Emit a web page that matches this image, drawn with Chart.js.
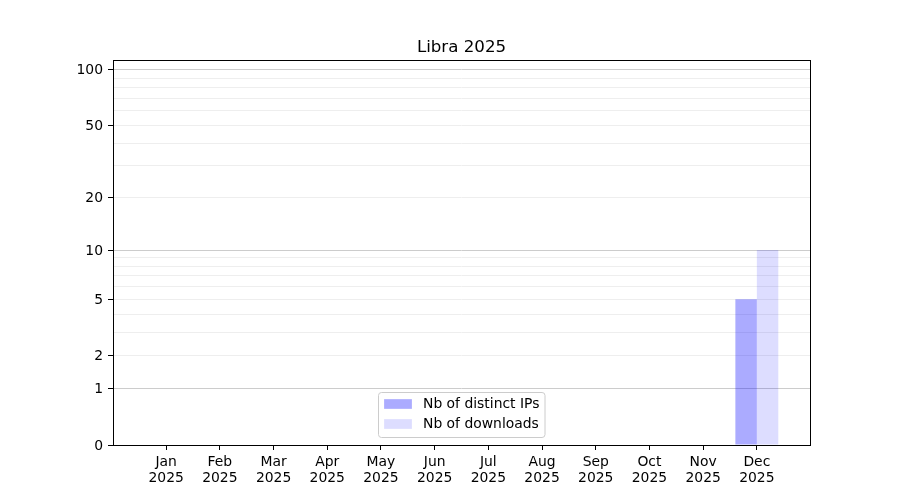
<!DOCTYPE html>
<html>
<head>
<meta charset="utf-8">
<script src="https://cdn.jsdelivr.net/npm/chart.js@4"></script>
<style>
  body { margin: 0; background: #fff; }
</style>
</head>
<body>
<canvas id="myChart" width="900" height="500"></canvas>
<script>
const monthLabels = ["Jan", "Feb", "Mar", "Apr", "May", "Jun", "Jul", "Aug", "Sep", "Oct", "Nov", "Dec"];
const yearLabel = "2025";
const distinctIPs = [0, 0, 0, 0, 0, 0, 0, 0, 0, 0, 0, 5];
const downloads = [0, 0, 0, 0, 0, 0, 0, 0, 0, 0, 0, 10];
const yLabelled = [0, 1, 2, 5, 10, 20, 50, 100];
const yGridValues = [0, 1, 2, 3, 4, 5, 6, 7, 8, 9, 10, 20, 30, 40, 50, 60, 70, 80, 90, 100];
const yStrongLines = [1, 10, 100];

Chart.defaults.font.family = "DejaVu Sans";
Chart.defaults.font.size = 13.9;
Chart.defaults.color = "#000";

// y axis drawn as log10(1 + v), like the matplotlib function scale
class Log1pScale extends Chart.LinearScale {
    buildTicks() {
        return yGridValues.map(function (v) { return { value: v }; });
    }
    getPixelForValue(value) {
        const t = Math.log10(1 + value) / Math.log10(1 + this.max);
        return this.getPixelForDecimal(t);
    }
    getValueForPixel(pixel) {
        return Math.pow(10, this.getDecimalForPixel(pixel) * Math.log10(1 + this.max)) - 1;
    }
}
Log1pScale.id = "log1p";
Log1pScale.defaults = {};
Chart.register(Log1pScale);

function toPoints(values) {
    return values.map(function (v, i) { return { x: i, y: v }; });
}

// frame + legend inside the plot, matplotlib style
const framePlugin = {
    id: "frameAndLegend",
    afterDraw(chart) {
        const ctx = chart.ctx;
        const a = chart.chartArea;
        ctx.save();
        ctx.strokeStyle = "#000";
        ctx.lineWidth = 1;
        ctx.strokeRect(Math.round(a.left) + 0.5, Math.round(a.top) + 0.5,
            Math.round(a.right - a.left), Math.round(a.bottom - a.top));

        const fs = 13.9;
        ctx.font = fs + "px 'DejaVu Sans'";
        const items = chart.data.datasets;
        let textW = 0;
        items.forEach(function (d) { textW = Math.max(textW, ctx.measureText(d.label).width); });
        const pad = 5.6, handleW = 27.8, handleH = 9.7, gap = 11.1, rowH = 20;
        const w = pad + handleW + gap + textW + pad;
        const h = 45;
        const x0 = Math.round((a.left + a.right) / 2 - w / 2) + 0.5;
        const y0 = Math.round(a.bottom - 8 - h) + 0.5;
        ctx.beginPath();
        ctx.roundRect(x0, y0, w, h, 3);
        ctx.fillStyle = "rgba(255,255,255,0.8)";
        ctx.fill();
        ctx.strokeStyle = "#cccccc";
        ctx.stroke();
        ctx.textBaseline = "middle";
        ctx.textAlign = "left";
        items.forEach(function (d, i) {
            const cy = y0 + 11.5 + i * rowH;
            ctx.fillStyle = d.backgroundColor;
            ctx.fillRect(x0 + pad, cy - handleH / 2, handleW, handleH);
            ctx.fillStyle = "#000";
            ctx.fillText(d.label, x0 + pad + handleW + gap, cy + 0.5);
        });
        ctx.restore();
    }
};

const ctx = document.getElementById("myChart").getContext("2d");
const myChart = new Chart(ctx, {
    type: "bar",
    data: {
        datasets: [{
            label: "Nb of distinct IPs",
            data: toPoints(distinctIPs),
            backgroundColor: "rgba(0,0,255,0.33)",
            borderWidth: 0
        }, {
            label: "Nb of downloads",
            data: toPoints(downloads),
            backgroundColor: "rgba(0,0,255,0.135)",
            borderWidth: 0
        }]
    },
    options: {
        responsive: false,
        animation: false,
        layout: { padding: { left: 0, right: 90, top: 0, bottom: 0 } },
        categoryPercentage: 0.8,
        barPercentage: 1.0,
        plugins: {
            legend: { display: false },
            tooltip: { enabled: false },
            title: {
                display: true,
                text: "Libra 2025",
                fullSize: false,
                font: { size: 16.67, weight: "normal" },
                padding: { top: 38, bottom: 2 }
            }
        },
        scales: {
            x: {
                type: "linear",
                min: -0.99,
                max: 11.99,
                offset: false,
                afterBuildTicks: function (scale) {
                    scale.ticks = monthLabels.map(function (m, i) { return { value: i }; });
                },
                afterFit: function (scale) { scale.height = 55; },
                ticks: {
                    autoSkip: false,
                    maxRotation: 0,
                    padding: 4,
                    font: { lineHeight: 1.15 },
                    callback: function (value) { return [monthLabels[value], yearLabel]; }
                },
                grid: {
                    offset: false,
                    drawOnChartArea: false,
                    drawTicks: true,
                    tickLength: 5,
                    tickColor: "#000"
                },
                border: { display: false }
            },
            y: {
                type: "log1p",
                min: 0,
                max: 113,
                afterFit: function (scale) { scale.width = 113; },
                ticks: {
                    autoSkip: false,
                    padding: 5,
                    labelOffset: 1,
                    callback: function (value) {
                        return yLabelled.includes(value) ? String(value) : "";
                    }
                },
                grid: {
                    tickLength: 5,
                    color: function (c) {
                        if (!c.tick) return "#eeeeee";
                        return yStrongLines.includes(c.tick.value) ? "#cccccc" : "#eeeeee";
                    },
                    tickColor: function (c) {
                        if (!c.tick) return "rgba(0,0,0,0)";
                        return yLabelled.includes(c.tick.value) ? "#000" : "rgba(0,0,0,0)";
                    }
                },
                border: { display: false }
            }
        }
    },
    plugins: [framePlugin]
});
</script>
</body>
</html>
